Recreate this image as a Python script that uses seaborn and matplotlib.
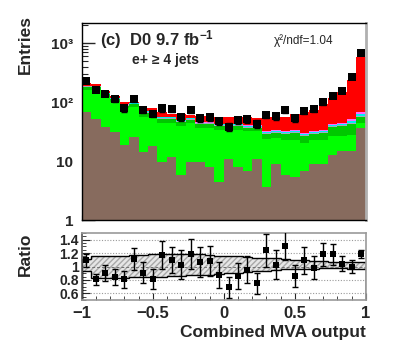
import numpy as np
import pandas as pd
import matplotlib
matplotlib.use("Agg")
import matplotlib.pyplot as plt
import seaborn as sns
from matplotlib.ticker import FixedLocator, MultipleLocator, NullFormatter, LogLocator

# ---------------- data ----------------
bin_lo, bin_hi, n_bins = -1.0, 1.0, 30

multijet = [68, 51, 38, 31, 18.7, 26, 14.4, 18, 9.7, 11.6, 5.8, 9.5, 9.5, 8, 4.4,
            11, 8, 6.7, 11, 3.6, 9, 5.9, 5.3, 6.7, 8.9, 8.9, 12.5, 14.7, 14.8, 36]
w_light = [92, 109, 84, 69, 59.3, 58, 41.6, 38, 35.3, 33.4, 34.2, 35.5, 26.5, 28, 29.6,
           23, 26, 25.3, 21, 20.4, 16, 17.1, 17.7, 13.8, 14.1, 14.1, 14, 12.3, 13.2, 9]
w_heavy = [20, 20, 13, 12, 9, 8, 10, 10, 7, 7, 6, 5, 6, 6, 6,
           6, 6, 5, 5, 5, 5, 6, 7, 6, 6, 7, 11.5, 12, 14, 10]
z_jets = [5, 5, 4, 3, 2.5, 2.5, 2, 2, 2, 2, 1.8, 1.8, 1.6, 1.6, 1.6,
          1.6, 1.6, 1.5, 1.5, 1.5, 1.5, 1.5, 1.5, 1.5, 1.5, 1.5, 1.5, 1.5, 2.5, 3]
dibosons = [3, 3, 2, 2, 1.5, 1.5, 1.5, 1.5, 1.2, 1.2, 1, 1, 1, 1, 1,
            1, 1, 1, 1, 1, 1, 1, 1, 1, 1, 1, 1, 1.5, 2.5, 4]
single_top = [2, 2, 1.5, 1.2, 1, 1, 1, 1, 0.8, 0.8, 0.7, 0.7, 0.7, 0.7, 0.7,
              0.7, 0.7, 0.7, 0.7, 0.7, 0.8, 0.8, 0.8, 1.2, 1, 1, 1.5, 2, 4, 6]
ttbar = [19, 13, 13.5, 9.8, 7, 4, 10.5, 10.5, 11, 8, 12.5, 7.5, 12.7, 12.7, 12.7,
         12.7, 12.7, 15.8, 12.8, 22.8, 23.7, 24.7, 28.7, 36.8, 40.5, 58.5, 75, 102, 187, 509]

data_counts = [231, 163, 137, 113, 78, 113, 73, 64, 78, 76, 56, 73, 53, 55, 47,
               38, 49, 51, 43, 61, 58, 73, 53, 71, 76, 99, 128, 156, 264, 680]

ratio_vals = [1.09, 0.81, 0.91, 0.85, 0.81, 1.11, 0.91, 0.81, 1.17, 1.10, 1.03, 1.19, 1.07, 1.08, 0.87,
              0.69, 0.86, 0.95, 0.75, 1.24, 1.03, 1.31, 0.86, 1.09, 0.98, 1.18, 1.18, 1.04, 1.00, 1.19]
ratio_errs = [0.10, 0.08, 0.12, 0.12, 0.13, 0.16, 0.16, 0.15, 0.21, 0.19, 0.21, 0.22, 0.22, 0.22, 0.19,
              0.16, 0.19, 0.20, 0.16, 0.25, 0.21, 0.22, 0.17, 0.20, 0.17, 0.17, 0.16, 0.11, 0.10, 0.06]
band_up = [1.11, 1.15, 1.15, 1.16, 1.16, 1.17, 1.17, 1.18, 1.18, 1.18, 1.18, 1.18, 1.18, 1.17, 1.16,
           1.15, 1.15, 1.14, 1.13, 1.12, 1.12, 1.11, 1.10, 1.09, 1.08, 1.08, 1.07, 1.07, 1.07, 1.07]
band_lo = [0.94, 0.83, 0.83, 0.83, 0.83, 0.84, 0.84, 0.85, 0.85, 0.86, 0.86, 0.87, 0.87, 0.88, 0.89,
           0.90, 0.91, 0.92, 0.93, 0.94, 0.95, 0.96, 0.96, 0.97, 0.97, 0.98, 0.98, 0.98, 0.97, 0.96]

y_tick_vals = [1, 10, 100, 1000]
y_tick_labels = ["1", "10", "10²", "10³"]
r_tick_vals = [0.6, 0.8, 1.0, 1.2, 1.4]
r_tick_labels = ["0.6", "0.8", "1", "1.2", "1.4"]
x_tick_vals = [-1, -0.5, 0, 0.5, 1]
x_tick_labels = ["\u22121", "\u22120.5", "0", "0.5", "1"]

# ---------------- build table ----------------
edges = np.linspace(bin_lo, bin_hi, n_bins + 1)
centers = 0.5 * (edges[:-1] + edges[1:])
components = {
    "Multijet": multijet, "W+light": w_light, "W+heavy": w_heavy, "Z+jets": z_jets,
    "Dibosons": dibosons, "Single top": single_top, "ttbar": ttbar,
}
palette = {
    "Multijet": "#876b5e", "W+light": "#00ff00", "W+heavy": "#00c800", "Z+jets": "#a3a8c0",
    "Dibosons": "#00f0f0", "Single top": "#ff66ff", "ttbar": "#ff0000",
}
rows = []
for name, vals in components.items():
    for c, v in zip(centers, vals):
        rows.append({"x": float(c), "w": float(v), "comp": name})
df = pd.DataFrame(rows)
data_arr = np.array(data_counts, dtype=float)

# ---------------- style ----------------
sns.set_style("ticks")
plt.rcParams["font.family"] = ["Liberation Sans", "DejaVu Sans"]
plt.rcParams["font.weight"] = "bold"
plt.rcParams["mathtext.fontset"] = "custom"
plt.rcParams["mathtext.rm"] = "Liberation Sans:bold"
plt.rcParams["mathtext.bf"] = "Liberation Sans:bold"
plt.rcParams["mathtext.it"] = "Liberation Sans:italic:bold"

fig = plt.figure(figsize=(4.07, 3.45), dpi=100)
ax = fig.add_axes([0.2007, 0.3623, 0.6983, 0.5710])
axr = fig.add_axes([0.2007, 0.1304, 0.6983, 0.1942])

# stacked histogram (first hue level is drawn on top in seaborn stacking)
ax.set_yscale("log", nonpositive="clip")
hue_order = list(components.keys())[::-1]
sns.histplot(data=df, x="x", weights="w", hue="comp", hue_order=hue_order,
             multiple="stack", bins=n_bins, binrange=(bin_lo, bin_hi), palette=palette,
             element="bars", fill=True, alpha=1, linewidth=0, antialiased=False,
             legend=False, ax=ax)

ax.errorbar(centers, data_arr, yerr=np.sqrt(data_arr), fmt="none", ecolor="black",
            elinewidth=1.0, capsize=2.4, capthick=1.0, zorder=5)
sns.scatterplot(x=centers, y=data_arr, marker="s", color="black", s=32,
                edgecolor="black", linewidth=0, ax=ax, zorder=6)

ax.set_xlim(bin_lo, bin_hi)
ax.set_ylim(1, 2200)
ax.yaxis.set_major_locator(FixedLocator(y_tick_vals))
ax.set_yticklabels(y_tick_labels, fontsize=11, fontweight="bold")
ax.yaxis.set_minor_locator(LogLocator(base=10, subs=np.arange(2, 10)))
ax.yaxis.set_minor_formatter(NullFormatter())
ax.xaxis.set_major_locator(FixedLocator([-0.5, 0, 0.5]))
ax.xaxis.set_minor_locator(MultipleLocator(0.1))
ax.set_xticklabels([])
ax.tick_params(axis="both", which="both", direction="in", top=False, right=False)
ax.tick_params(axis="y", which="major", length=9, width=1.0, pad=6)
ax.tick_params(axis="y", which="minor", length=4.5, width=0.8)
ax.tick_params(axis="x", which="major", length=6, width=0.8)
ax.tick_params(axis="x", which="minor", length=3.5, width=0.8)
ax.set_xlabel("")
ax.set_ylabel("Entries", fontsize=12.5, fontweight="bold", loc="top")
ax.yaxis.set_label_coords(-0.17, 1.04)
for s in ["left", "top", "bottom"]:
    ax.spines[s].set_color("black")
    ax.spines[s].set_linewidth(1.0)
ax.spines["right"].set_color("#b0b0b0")
ax.spines["right"].set_linewidth(2.0)

ax.text(0.065, 0.915, r"(c)  D0 9.7 fb$^{-1}$", transform=ax.transAxes,
        fontsize=12, fontweight="bold", ha="left", va="center")
ax.text(0.177, 0.81, "e+ \u2265 4 jets", transform=ax.transAxes,
        fontsize=10, fontweight="bold", ha="left", va="center")
ax.text(0.675, 0.91, "χ²/ndf=1.04", transform=ax.transAxes,
        fontsize=8.5, fontweight="normal", ha="left", va="center")

# ---------------- ratio panel ----------------
up_st = list(band_up) + [band_up[-1]]
lo_st = list(band_lo) + [band_lo[-1]]
for yv in r_tick_vals:
    axr.axhline(yv, color="#9a9a9a", linestyle=(0, (1, 1.5)), linewidth=0.8, zorder=0)
axr.fill_between(edges, lo_st, up_st, step="post", facecolor="#e6e6e6",
                 edgecolor="#a8a8a8", hatch="//////", linewidth=0, zorder=1)
axr.stairs(band_up, edges, color="black", linewidth=1.0, zorder=2)
axr.stairs(band_lo, edges, color="black", linewidth=1.0, zorder=2)
axr.axhline(1.0, color="#707070", linestyle=(0, (3, 2)), linewidth=0.7, zorder=2)

axr.errorbar(centers, ratio_vals, yerr=ratio_errs, fmt="none", ecolor="black",
             elinewidth=1.0, capsize=2.5, capthick=1.0, zorder=5)
sns.scatterplot(x=centers, y=ratio_vals, marker="s", color="black", s=22,
                linewidth=0, ax=axr, zorder=6)

axr.set_xlim(bin_lo, bin_hi)
axr.set_ylim(0.5, 1.5)
axr.yaxis.set_major_locator(FixedLocator(r_tick_vals))
axr.set_yticklabels(r_tick_labels, fontsize=10, fontweight="bold")
axr.yaxis.set_minor_locator(MultipleLocator(0.05))
axr.xaxis.set_major_locator(FixedLocator(x_tick_vals))
axr.set_xticklabels(x_tick_labels, fontsize=12, fontweight="bold")
axr.xaxis.set_minor_locator(MultipleLocator(0.1))
axr.tick_params(axis="both", which="both", direction="in", top=False, right=False)
axr.tick_params(axis="y", which="major", length=6, width=0.8, pad=2)
axr.tick_params(axis="y", which="minor", length=3, width=0.6)
axr.tick_params(axis="x", which="major", length=5, width=0.8, pad=4)
axr.tick_params(axis="x", which="minor", length=3, width=0.6)
axr.set_ylabel("Ratio", fontsize=12.5, fontweight="bold", loc="top")
axr.yaxis.set_label_coords(-0.17, 1.0)
axr.set_xlabel("Combined MVA output", fontsize=12.5, fontweight="bold", loc="right",
               labelpad=3)
for s in ["left", "top", "bottom", "right"]:
    axr.spines[s].set_color("#9a9a9a")
    axr.spines[s].set_linewidth(1.2)
axr.spines["left"].set_color("#555555")

fig.savefig("out.png", dpi=100)
